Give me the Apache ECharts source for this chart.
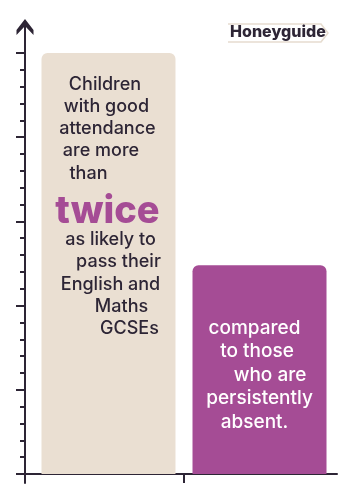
<!DOCTYPE html>
<html>
<head>
<meta charset="utf-8">
<script src="https://cdn.jsdelivr.net/npm/echarts@6/dist/echarts.min.js"></script>
<style>html,body{margin:0;padding:0;background:#fff;}#c{width:353px;height:500px;}</style>
</head>
<body>
<div id="c"></div>
<script>
// ---- data ----
const categories = ['English and Maths GCSE pass likelihood'];
const seriesNames = ['Good attendance', 'Persistently absent'];
const goodAttendance = [25];
const persistentlyAbsent = [12.4];
const yMin = 0, yMax = 25, yInterval = 5;
const leftText = ['Children', 'with good', 'attendance', 'are more', 'than', 'twice', 'as likely to', 'pass their', 'English and', 'Maths', 'GCSEs'];
const emphasisWord = 'twice';
const rightText = ['compared', 'to those', 'who are', 'persistently', 'absent.'];
const brand = 'Honeyguide';

// ---- styles ----
const DARK = '#2d2535';
const BEIGE = '#eadfd2';
const PURPLE = '#a54c95';
const FONT = 'Inter';
const KEYS = 'abcdefghijklmnop';
const BOX_W = 124;
// horizontal nudges of each text line (px, relative to bar centre)
const leftShift = [-3.5, -2, -1, -7.5, -20, -1, 2, 10, 2, 13, 21];
const rightShift = [-5, -2.5, 10.5, 0, -5];
function pad(d, top) {
  const t = top || 0;
  return d > 0 ? [t, 0, 0, 2 * d] : [t, -2 * d, 0, 0];
}

const leftRich = {};
leftText.forEach(function (t, i) {
  const k = 'left' + KEYS[i];
  if (t === emphasisWord) {
    leftRich[k] = { fontFamily: FONT, fontSize: 38, fontWeight: 800, color: PURPLE, lineHeight: 44, width: BOX_W, align: 'center', padding: pad(leftShift[i], 10) };
  } else {
    leftRich[k] = { fontFamily: FONT, fontSize: 18, fontWeight: 500, color: DARK, lineHeight: 22.3, width: BOX_W, align: 'center', padding: pad(leftShift[i]) };
  }
});
const rightRich = {};
rightText.forEach(function (t, i) {
  rightRich['right' + KEYS[i]] = { fontFamily: FONT, fontSize: 19, fontWeight: 500, color: '#ffffff', lineHeight: 23.5, width: BOX_W, align: 'center', padding: pad(rightShift[i]) };
});

const chart = echarts.init(document.getElementById('c'), null, { renderer: 'canvas' });
const arrowPath = 'path://M8.5,0 L17,11 L17,16 L8.5,7 L0,16 L0,11 Z';

chart.setOption({
  backgroundColor: '#ffffff',
  animation: false,
  title: {
    text: brand,
    left: 230, top: 24, padding: 0,
    textStyle: { fontFamily: FONT, fontSize: 16, fontWeight: 800, color: DARK }
  },
  graphic: [{
    type: 'polyline', z: -1,
    shape: { points: [[228, 24], [321, 24], [328, 33], [321, 42], [228, 42]] },
    style: { stroke: '#e6dccf', lineWidth: 1.5, fill: null }
  }],
  grid: [
    { left: 25, right: 10, top: 53, bottom: 26 },
    { left: 25, right: 16, top: 53, bottom: 26 },
    { left: 25, right: 16, top: 24, bottom: 17 }
  ],
  xAxis: [
    { gridIndex: 0, type: 'category', data: categories,
      axisLine: { show: false },
      axisTick: { show: true, alignWithLabel: true, length: 9, lineStyle: { color: DARK, width: 2 } },
      axisLabel: { show: false }, splitLine: { show: false } },
    { gridIndex: 1, type: 'value', min: 0, max: 1,
      axisLine: { show: true, onZero: false, lineStyle: { color: DARK, width: 2 } },
      axisTick: { show: false }, axisLabel: { show: false }, splitLine: { show: false } },
    { gridIndex: 2, type: 'value', show: false }
  ],
  yAxis: [
    { gridIndex: 0, type: 'value', min: yMin, max: yMax, interval: yInterval,
      axisLine: { show: false },
      axisTick: { show: true, length: 9, lineStyle: { color: DARK, width: 2 } },
      minorTick: { show: true, splitNumber: 5, length: 5, lineStyle: { color: DARK, width: 2 } },
      axisLabel: { show: false }, splitLine: { show: false }, minorSplitLine: { show: false } },
    { gridIndex: 1, type: 'value', min: 0, max: 1, show: false },
    { gridIndex: 2, type: 'value', min: 0, max: 1,
      axisLine: { show: true, onZero: false, symbol: ['none', arrowPath], symbolSize: [17, 16], symbolOffset: [0, -3], lineStyle: { color: DARK, width: 2 } },
      axisTick: { show: false }, axisLabel: { show: false }, splitLine: { show: false } }
  ],
  series: [
    { name: seriesNames[0], type: 'bar', xAxisIndex: 0, yAxisIndex: 0, data: goodAttendance,
      barWidth: 134, barGap: '12.7%',
      itemStyle: { color: BEIGE, borderRadius: [6, 6, 0, 0] },
      label: { show: true, position: 'insideTop', distance: 20, align: 'center',
        formatter: function () { return leftText.map(function (t, i) { return '{left' + KEYS[i] + '|' + t + '}'; }).join('\n'); },
        rich: leftRich } },
    { name: seriesNames[1], type: 'bar', xAxisIndex: 0, yAxisIndex: 0, data: persistentlyAbsent,
      barWidth: 134,
      itemStyle: { color: PURPLE, borderRadius: [6, 6, 0, 0] },
      label: { show: true, position: 'insideTop', distance: 51, align: 'center',
        formatter: function () { return rightText.map(function (t, i) { return '{right' + KEYS[i] + '|' + t + '}'; }).join('\n'); },
        rich: rightRich } }
  ]
});
</script>
</body>
</html>
